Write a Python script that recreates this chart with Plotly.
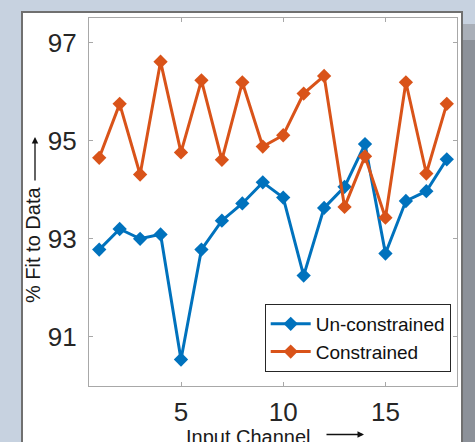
import plotly.graph_objects as go

channels = list(range(1, 19))
unconstrained = [92.78, 93.20, 93.00, 93.09, 90.54, 92.78, 93.37, 93.72, 94.15,
                 93.84, 92.25, 93.63, 94.06, 94.93, 92.70, 93.77, 93.97, 94.62]
constrained = [94.65, 95.75, 94.31, 96.61, 94.76, 96.23, 94.61, 96.19, 94.88,
               95.11, 95.96, 96.32, 93.65, 94.68, 93.43, 96.19, 94.33, 95.75]
series_names = ["Un-constrained", "Constrained"]
y_ticks = [91, 93, 95, 97]
x_ticks = [5, 10, 15]
x_title = "Input Channel"
y_title = "% Fit to Data"

BLUE = "#0072BD"
ORANGE = "#D95319"
FONT = "Liberation Sans, Arial, Helvetica, sans-serif"
AXC = "#a8a8a8"

fig = go.Figure()
for name, vals, col in [(series_names[0], unconstrained, BLUE),
                        (series_names[1], constrained, ORANGE)]:
    fig.add_trace(go.Scatter(
        x=channels, y=vals, name=name, mode="lines+markers",
        line=dict(color=col, width=3),
        marker=dict(symbol="diamond", size=11, color=col, line=dict(width=0)),
    ))

W, H = 475, 442
L, R, T, B = 89, 18, 18, 56
pw, ph = W - L - R, H - T - B

def px(x):
    return (x - L) / pw

def py(y):
    return (H - B - y) / ph

shapes = [
    dict(type="rect", xref="paper", yref="paper", layer="below",
         x0=px(22), x1=px(462), y0=py(460), y1=py(12),
         fillcolor="white", line=dict(color="#707070", width=2)),
    dict(type="rect", xref="paper", yref="paper", layer="below",
         x0=px(463), x1=px(480), y0=py(460), y1=py(40),
         fillcolor="#8c9199", line=dict(width=0)),
    dict(type="rect", xref="paper", yref="paper", layer="below",
         x0=px(463), x1=px(480), y0=py(40), y1=py(24),
         fillcolor="#a9afb8", line=dict(width=0)),
]

annotations = [
    dict(text=x_title, xref="paper", yref="paper", x=px(248.5), y=py(437),
         xanchor="center", yanchor="middle", showarrow=False,
         font=dict(family=FONT, size=20, color="#1a1a1a")),
    dict(text="", xref="paper", yref="paper", x=px(364), y=py(434.5),
         ax=-39, ay=0, showarrow=True, arrowhead=2, arrowsize=1,
         arrowwidth=1.3, arrowcolor="#111"),
    dict(text=y_title, xref="paper", yref="paper", x=px(33), y=py(245),
         xanchor="center", yanchor="middle", textangle=-90, showarrow=False,
         font=dict(family=FONT, size=20, color="#1a1a1a")),
    dict(text="", xref="paper", yref="paper", x=px(35), y=py(137),
         ax=0, ay=45, showarrow=True, arrowhead=2, arrowsize=1,
         arrowwidth=1.3, arrowcolor="#111"),
]

fig.update_layout(
    width=W, height=H,
    margin=dict(l=L, r=R, t=T, b=B, pad=0),
    paper_bgcolor="#c7d2e0", plot_bgcolor="white",
    font=dict(family=FONT, size=26, color="#262626"),
    showlegend=True,
    legend=dict(x=px(450.7), y=py(338), xanchor="right", yanchor="middle",
                bgcolor="white", bordercolor="#262626", borderwidth=1,
                font=dict(family=FONT, size=19, color="#111"),
                itemwidth=40, tracegroupgap=0),
    shapes=shapes, annotations=annotations,
)
fig.update_xaxes(range=[0.5, 18.5], tickvals=x_ticks, ticks="inside", ticklen=4,
                 tickcolor=AXC, showline=True, linecolor=AXC, linewidth=1.3,
                 mirror="ticks", showgrid=False, zeroline=False,
                 ticklabelstandoff=3)
fig.update_yaxes(range=[90, 97.5], tickvals=y_ticks, ticks="inside", ticklen=4,
                 tickcolor=AXC, showline=True, linecolor=AXC, linewidth=1.3,
                 mirror="ticks", showgrid=False, zeroline=False,
                 ticklabelstandoff=6)

fig.write_html("out.html",
               config={"displayModeBar": False},
               post_script="document.body.style.margin='0';"
                           "document.body.style.overflow='hidden';")
